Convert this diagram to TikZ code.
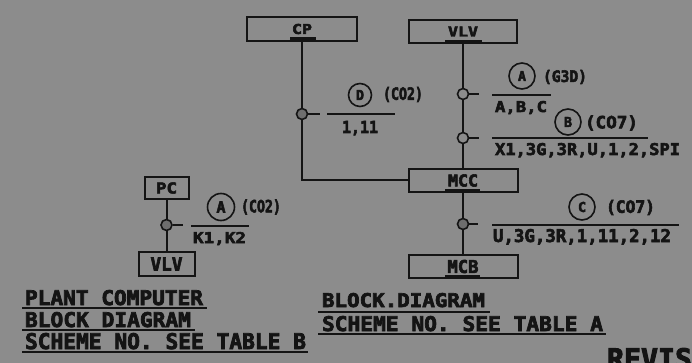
\documentclass[tikz,border=0pt]{standalone}
\usepackage{graphicx}
\usepackage{fontspec}
\newfontfamily\lf{DejaVu Sans Mono}
\usetikzlibrary{calc}
\definecolor{bg}{HTML}{8C8C8C}
\definecolor{ink}{HTML}{141414}
\definecolor{jf}{HTML}{6E6E6E}
\newcommand\heavytxt[1]{\special{pdf:literal direct 2 Tr 0.35 w}#1\special{pdf:literal direct 0 Tr}}
\newcommand\fitt[3]{\resizebox{#1pt}{#2pt}{\lf\bfseries\heavytxt{#3}}}
\newcommand\fitp[3]{\resizebox*{#1pt}{#2pt}{\lf\bfseries\heavytxt{#3}}}
\tikzset{
 blk/.style={draw=ink, line width=2pt, inner sep=0pt, text=ink},
 jn/.style={circle, draw=ink, fill=jf, line width=1.6pt, minimum size=11pt, inner sep=0pt},
 ltr/.style={circle, draw=ink, line width=1.6pt, inner sep=0pt, text=ink},
 txt/.style={inner sep=0pt, outer sep=0pt, anchor=base west, text=ink},
 ptx/.style={inner sep=0pt, outer sep=0pt, anchor=west, text=ink},
 wire/.style={draw=ink, line width=2pt},
 rulel/.style={draw=ink, line width=2pt},
 barl/.style={draw=ink, line width=3pt},
 uline/.style={draw=ink, line width=2pt},
}
\begin{document}
\begin{tikzpicture}[x=1pt,y=-1pt]
\useasboundingbox (0,0) rectangle (692,363);
\clip (0,0) rectangle (692,363);
\fill[bg] (0,0) rectangle (692,363);

% boxes
\node[blk, minimum width=110pt, minimum height=24pt] (cp) at (302,29) {\fitt{20}{10}{CP}};
\node[blk, minimum width=108pt, minimum height=23pt] (vlvA) at (463,31.5) {\fitt{30}{10}{VLV}};
\node[blk, minimum width=109pt, minimum height=23pt] (mcc) at (463,180.5) {\fitt{30}{12}{MCC}};
\node[blk, minimum width=109pt, minimum height=23pt] (mcb) at (463,266.5) {\fitt{31}{13}{MCB}};
\node[blk, minimum width=44pt, minimum height=22pt] (pc) at (166.5,188) {\fitt{21}{11}{PC}};
\node[blk, minimum width=56pt, minimum height=24pt] (vlvB) at (166.5,264) {\fitt{32}{13}{VLV}};

% bars under box texts
\draw[barl] ([xshift=-12pt,yshift=3pt]cp.south) -- ([xshift=14pt,yshift=3pt]cp.south);
\draw[barl] ([xshift=-18pt,yshift=2.5pt]vlvA.south) -- ([xshift=19pt,yshift=2.5pt]vlvA.south);
\draw[barl] ([xshift=-18pt,yshift=2.5pt]mcc.south) -- ([xshift=17pt,yshift=2.5pt]mcc.south);
\draw[barl] ([xshift=-18pt,yshift=2.5pt]mcb.south) -- ([xshift=17pt,yshift=2.5pt]mcb.south);

% wires
\draw[wire] (cp.south) |- (mcc.west);
\draw[wire] (vlvA.south) -- (mcc.north);
\draw[wire] (mcc.south) -- (mcb.north);
\draw[wire] (pc.south) -- (vlvB.north);

% junctions
\node[jn] (jD) at (302,114) {};
\node[jn, fill=bg] (jA) at (463,94) {};
\node[jn, fill=bg] (jB) at (463,138) {};
\node[jn] (jC) at (463,224) {};
\node[jn] (jP) at (166.5,225) {};

% stubs
\coordinate (sD) at (320,114);
\coordinate (sA) at (479,94);
\coordinate (sB) at (479,138);
\coordinate (sC) at (478,224);
\coordinate (sP) at (183,225);
\draw[wire] (jD.east) -- (sD);
\draw[wire] (jA.east) -- (sA);
\draw[wire] (jB.east) -- (sB);
\draw[wire] (jC.east) -- (sC);
\draw[wire] (jP.east) -- (sP);

% label rules
\coordinate (rD1) at (327,114); \coordinate (rD2) at (395,114);
\coordinate (rA1) at (492,95);  \coordinate (rA2) at (551,95);
\coordinate (rB1) at (492,138); \coordinate (rB2) at (648,138);
\coordinate (rC1) at (492,225); \coordinate (rC2) at (679,225);
\coordinate (rP1) at (191,226); \coordinate (rP2) at (249,226);
\draw[rulel] (rD1) -- (rD2);
\draw[rulel] (rA1) -- (rA2);
\draw[rulel] (rB1) -- (rB2);
\draw[rulel] (rC1) -- (rC2);
\draw[rulel] (rP1) -- (rP2);

% circled letters
\node[ltr, minimum size=23pt] (cD) at (360,95) {\fitt{8}{10}{D}};
\node[ltr, minimum size=26pt] (cA) at (522,76) {\fitt{8}{10}{A}};
\node[ltr, minimum size=26pt] (cB) at (568,122) {\fitt{8}{10}{B}};
\node[ltr, minimum size=26pt] (cC) at (582,207) {\fitt{8}{10}{C}};
\node[ltr, minimum size=27pt] (cP) at (221,207) {\fitt{9}{11}{A}};

% parenthesised codes
\node[ptx] (tD) at (383,94.5) {\fitp{40}{15}{(CO2)}};
\node[ptx] (tA) at (543,77) {\fitp{44}{14}{(G3D)}};
\node[ptx] (tB) at (585,123) {\fitp{53}{15}{(CO7)}};
\node[ptx] (tC) at (606,207.5) {\fitp{49}{15}{(CO7)}};
\node[ptx] (tP) at (241,207) {\fitp{40}{15}{(CO2)}};

% labels under rules
\node[txt] (lD) at (342,133) {\fitt{36}{12}{1,11}};
\node[txt] (lA) at (495,112) {\fitt{52}{11}{A,B,C}};
\node[txt] (lB) at (495,155) {\fitt{185}{12}{X1,3G,3R,U,1,2,SPI}};
\node[txt] (lC) at (493,242) {\fitt{178}{13}{U,3G,3R,1,11,2,12}};
\node[txt] (lP) at (193,243) {\fitt{53}{11}{K1,K2}};

% bottom-left title
\node[txt] (b1) at (25,305) {\fitt{178}{15}{PLANT COMPUTER}};
\node[txt] (b2) at (25,327) {\fitt{166}{15}{BLOCK DIAGRAM}};
\node[txt] (b3) at (25,349) {\fitt{281}{16}{SCHEME NO. SEE TABLE B}};
\draw[uline] ([xshift=-3pt,yshift=-2.5pt]b1.base west) -- ([xshift=4pt,yshift=-2.5pt]b1.base east);
\draw[uline] ([xshift=-3pt,yshift=-2.5pt]b2.base west) -- ([xshift=4pt,yshift=-2.5pt]b2.base east);
\draw[uline] ([xshift=-3pt,yshift=-2.5pt]b3.base west) -- ([xshift=2pt,yshift=-2.5pt]b3.base east);

% bottom-right title
\node[txt] (a1) at (322,307) {\fitt{163}{14}{BLOCK.DIAGRAM}};
\node[txt] (a2) at (322,331) {\fitt{281}{15}{SCHEME NO. SEE TABLE A}};
\draw[uline] ([xshift=-4pt,yshift=-5pt]a1.base west) -- ([xshift=5pt,yshift=-5pt]a1.base east);
\draw[uline] ([xshift=-4pt,yshift=-2.5pt]a2.base west) -- ([xshift=3pt,yshift=-2.5pt]a2.base east);

% heading at bottom right, cut by the edge as in the reference
\node[txt] (rev) at (607,369) {\fitt{153}{21}{REVISIONS}};
\end{tikzpicture}
\end{document}
